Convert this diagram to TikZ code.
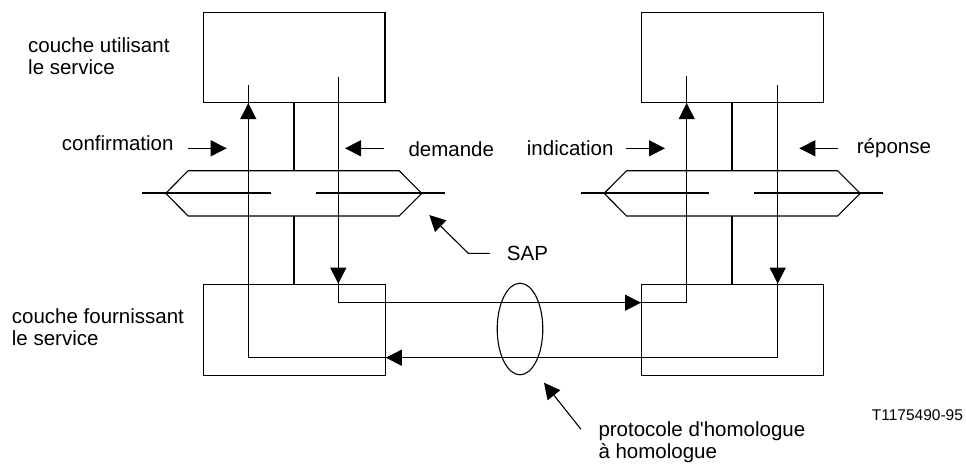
\documentclass[tikz,border=0pt]{standalone}
\usepackage{fontspec}
\setmainfont{Liberation Sans}
\usetikzlibrary{arrows.meta,shapes.geometric}
\begin{document}
\begin{tikzpicture}[x=1pt,y=-1pt,
  flow/.style={line width=1.1pt},
  stem/.style={line width=2pt},
  tip/.style={-{Triangle[length=16pt,width=16pt]}},
  layerbox/.style={draw,line width=1.2pt,inner sep=0,anchor=north west,
    minimum width=181.6pt},
  lbl/.style={font=\fontsize{20.5pt}{22pt}\selectfont,anchor=base west,inner sep=0},
  smalllbl/.style={font=\fontsize{15.5pt}{18pt}\selectfont,anchor=base west,inner sep=0},
  sapgate/.pic={
    \draw[flow] (-128,0) -- (-105.5,-22.65) -- (105.5,-22.65) -- (128,0)
      -- (105.5,22.65) -- (-105.5,22.65) -- cycle;
    \draw[stem] (-151.4,0) -- (-23,0);
    \draw[stem] (22,0) -- (151.3,0);
    \coordinate (-top) at (0,-22.65);
    \coordinate (-bot) at (0,22.65);
  }]
\useasboundingbox (0,0) rectangle (966,472);
\fill[white] (0,0) rectangle (966,472);

% layer boxes
\node[layerbox,minimum height=90.2pt] (tl) at (202.7,11.7) {};
\node[layerbox,minimum height=90.2pt] (tr) at (641,11.7) {};
\node[layerbox,minimum height=91pt]   (bl) at (203,283.7) {};
\node[layerbox,minimum height=91pt]   (br) at (641,283.7) {};

% service access points
\pic (sapl) at (293.7,193.35) {sapgate};
\pic (sapr) at (732.15,193.35) {sapgate};
\draw[stem] (tl.south -| sapl-top) -- (sapl-top);
\draw[stem] (sapl-bot) -- (sapl-bot |- bl.north);
\draw[stem] (tr.south -| sapr-top) -- (sapr-top);
\draw[stem] (sapr-bot) -- (sapr-bot |- br.north);

% primitive paths
\coordinate (dnL) at (338.3,76.7);
\coordinate (fwdL) at (338.3,302.7);
\coordinate (fwdR) at (686.7,302.7);
\coordinate (upR) at (686.7,76);
\coordinate (dnR) at (777.7,85.3);
\coordinate (retR) at (777.7,357.7);
\coordinate (retL) at (248.3,357.7);
\coordinate (upL) at (248.3,85);

\draw[flow] (dnL) -- (fwdL) -- (fwdR) -- (upR);
\draw[flow,tip] (dnL) -- (dnL |- bl.north);
\draw[flow,tip] (fwdL) -- (fwdL -| br.west);
\draw[flow,tip] (fwdR) -- (fwdR |- tr.south);

\draw[flow] (dnR) -- (retR) -- (retL) -- (upL);
\draw[flow,tip] (dnR) -- (dnR |- br.north);
\draw[flow,tip] (retR) -- (retR -| bl.east);
\draw[flow,tip] (retL) -- (retL |- tl.south);

% peer-to-peer protocol
\node[draw,ellipse,flow,minimum width=45.6pt,minimum height=91.6pt,inner sep=0]
  (peer) at (520,329) {};

% primitive indicators
\coordinate (confA) at (188.3,148.3);  \coordinate (confB) at (226.7,148.3);
\coordinate (demA)  at (384,148.3);    \coordinate (demB)  at (345,148.3);
\coordinate (indA)  at (626,148.3);    \coordinate (indB)  at (665,148.3);
\coordinate (repA)  at (838.3,148.3);  \coordinate (repB)  at (799.3,148.3);
\draw[flow,tip] (confA) -- (confB);
\draw[flow,tip] (demA) -- (demB);
\draw[flow,tip] (indA) -- (indB);
\draw[flow,tip] (repA) -- (repB);

% labels
\node[lbl] (uses1) at (28,52) {couche utilisant};
\node[lbl] (uses2) at (28,74.5) {le service};
\node[lbl] (prov1) at (11.7,323.3) {couche fournissant};
\node[lbl] (prov2) at (11.7,345.5) {le service};
\node[lbl] (conf) at (61.7,150.8) {confirmation};
\node[lbl] (dem) at (408.3,156.8) {demande};
\node[lbl] (ind) at (526.7,155) {indication};
\node[lbl] (rep) at (856.7,153.5) {réponse};
\node[lbl] (sap) at (506.7,260) {SAP};
\node[lbl] (peer1) at (598.3,436.5) {protocole d\textquotesingle homologue};
\node[lbl] (peer2) at (598.3,458.5) {à homologue};
\node[smalllbl] (ref) at (871.7,420) {T1175490-95};

% pointers
\coordinate (sapTail) at (490,253.3);
\coordinate (sapKnee) at (468.3,253.3);
\coordinate (sapAim) at (429.3,215);
\draw[flow,tip] (sapTail) -- (sapKnee) -- (sapAim);
\coordinate (peerTail) at (581,429.3);
\coordinate (peerAim) at (544,382.7);
\draw[flow,tip] (peerTail) -- (peerAim);
\end{tikzpicture}
\end{document}
